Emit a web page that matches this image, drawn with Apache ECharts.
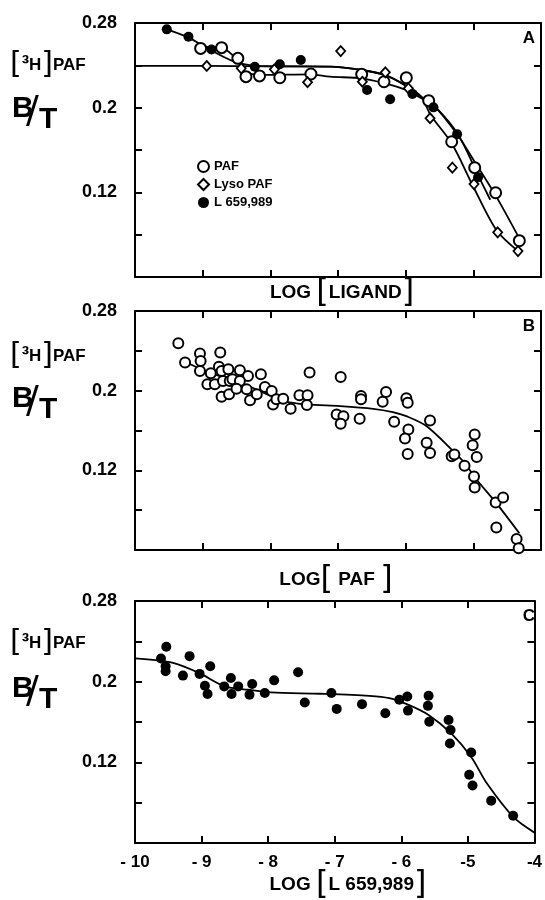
<!DOCTYPE html>
<html><head><meta charset="utf-8">
<script src="https://cdn.jsdelivr.net/npm/echarts@6/dist/echarts.min.js"></script>
<style>html,body{margin:0;padding:0;background:#fff}#c{width:545px;height:900px}</style>
</head><body><div id="c"></div>
<script>
// ---------- tick labels / text ----------
const xTickLabels = ['- 10', '- 9', '- 8', '- 7', '- 6', '-5', '-4'];
const yTickValues = [0.28, 0.2, 0.12];
const yTickLabels = ['0.28', '0.2', '0.12'];
const panelLetters = ['A', 'B', 'C'];
const legendNames = ['PAF', 'Lyso PAF', 'L 659,989'];
const xTitleInner = ['LIGAND', ' PAF ', 'L 659,989'];

// ---------- Panel A data (log ligand, B/T) ----------
const pafA = [[-9.03,0.256],[-8.72,0.2567],[-8.48,0.2466],[-8.36,0.2293],[-8.16,0.230],[-7.86,0.2283],[-7.40,0.2318],[-6.65,0.2315],[-6.32,0.2245],[-5.99,0.2283],[-5.66,0.2066],[-5.32,0.1678],[-4.98,0.1433],[-4.67,0.1196],[-4.32,0.0743]];
const lysoA = [[-8.94,0.2394],[-8.43,0.2372],[-7.94,0.2362],[-7.45,0.224],[-6.96,0.2535],[-6.64,0.2245],[-6.30,0.2334],[-5.96,0.2183],[-5.64,0.190],[-5.31,0.1433],[-4.99,0.1278],[-4.64,0.0822],[-4.34,0.0645]];
const l659A = [[-9.53,0.274],[-9.21,0.267],[-8.87,0.255],[-8.23,0.2387],[-7.86,0.241],[-7.55,0.245],[-6.57,0.2167],[-6.23,0.208],[-5.90,0.213],[-5.59,0.2003],[-5.24,0.175],[-4.93,0.1342]];
const fitPafA = [[-9.06,0.2576],[-8.7,0.256],[-8.5,0.2457],[-8.38,0.234],[-8.1,0.231],[-7.41,0.2315],[-7.12,0.2293],[-6.65,0.2277],[-6.31,0.223],[-5.99,0.2167],[-5.77,0.209],[-5.59,0.2025],[-5.25,0.1758],[-4.95,0.1458],[-4.66,0.1159],[-4.3,0.074]];
const fitLysoA = [[-10,0.2395],[-9,0.2395],[-8,0.239],[-7.12,0.2387],[-6.65,0.2356],[-6.31,0.2309],[-5.99,0.2205],[-5.77,0.2104],[-5.63,0.1928],[-5.32,0.1663],[-5.0,0.1253],[-4.66,0.0844],[-4.34,0.0645]];
const fitL659A = [[-9.53,0.274],[-9.2,0.266],[-8.9,0.255],[-8.55,0.244],[-8.2,0.2395],[-7.6,0.239],[-7.12,0.2387],[-6.65,0.2356],[-6.31,0.2309],[-5.99,0.2205],[-5.77,0.2104],[-5.54,0.1994],[-5.22,0.1742],[-4.92,0.1348],[-4.75,0.113]];

// ---------- Panel B data (log PAF) ----------
const pafB = [[-9.36,0.2477],[-9.26,0.2282],[-9.04,0.2373],[-9.03,0.2299],[-9.04,0.2198],[-8.74,0.2383],[-8.88,0.2175],[-8.76,0.2239],[-8.72,0.2198],[-8.62,0.2215],[-8.93,0.2064],[-8.82,0.2064],[-8.70,0.2097],[-8.60,0.2097],[-8.45,0.2205],[-8.33,0.2148],[-8.14,0.2165],[-8.56,0.2114],[-8.45,0.2097],[-8.72,0.194],[-8.61,0.1963],[-8.50,0.202],[-8.35,0.2013],[-8.30,0.1903],[-8.20,0.1963],[-8.08,0.2037],[-7.98,0.1996],[-7.96,0.1862],[-7.91,0.1913],[-7.81,0.192],[-7.70,0.1819],[-7.57,0.1953],[-7.45,0.1953],[-7.46,0.1855],[-7.42,0.2182],[-6.96,0.2138],[-7.02,0.1761],[-6.92,0.1744],[-6.96,0.1668],[-6.68,0.1718],[-6.66,0.1946],[-6.66,0.1913],[-6.34,0.1889],[-6.29,0.1986],[-6.17,0.1688],[-5.99,0.1923],[-5.97,0.1879],[-5.96,0.161],[-6.01,0.1519],[-5.97,0.1365],[-5.64,0.1701],[-5.69,0.1476],[-5.64,0.1375],[-5.32,0.1341],[-5.28,0.1358],[-5.13,0.1247],[-4.98,0.156],[-5.01,0.1452],[-4.95,0.1335],[-4.99,0.1139],[-4.98,0.1028],[-4.67,0.0877],[-4.56,0.0927],[-4.66,0.0625],[-4.36,0.0511],[-4.33,0.0417]];
const fitB = [[-9.26,0.229],[-8.9,0.218],[-8.45,0.2082],[-8.0,0.195],[-7.81,0.1896],[-7.46,0.1862],[-6.97,0.1845],[-6.48,0.1818],[-6.19,0.1785],[-5.99,0.1744],[-5.69,0.1643],[-5.32,0.1408],[-5.13,0.1274],[-4.95,0.1106],[-4.66,0.0871],[-4.32,0.0568]];

// ---------- Panel C data (log L 659,989) ----------
const l659C = [[-9.61,0.223],[-9.53,0.2347],[-9.54,0.2153],[-9.54,0.2103],[-9.28,0.206],[-9.18,0.2253],[-9.03,0.2077],[-8.95,0.196],[-8.91,0.1877],[-8.87,0.2153],[-8.66,0.1953],[-8.56,0.2037],[-8.55,0.1877],[-8.45,0.1953],[-8.28,0.187],[-8.24,0.1977],[-8.05,0.1887],[-7.91,0.2013],[-7.55,0.2093],[-7.45,0.1793],[-7.05,0.1887],[-6.97,0.173],[-6.59,0.1777],[-6.24,0.1687],[-6.03,0.182],[-5.91,0.1853],[-5.90,0.1713],[-5.59,0.186],[-5.60,0.176],[-5.58,0.1603],[-5.29,0.162],[-5.26,0.152],[-5.27,0.1387],[-4.95,0.1297],[-4.98,0.1077],[-4.93,0.097],[-4.65,0.082],[-4.32,0.067]];
const fitC = [[-10,0.223],[-9.43,0.2187],[-9.04,0.2087],[-8.65,0.1953],[-8.30,0.192],[-7.96,0.1893],[-7.22,0.188],[-6.48,0.186],[-6.18,0.1837],[-5.89,0.177],[-5.59,0.167],[-5.25,0.1487],[-4.95,0.1253],[-4.71,0.0987],[-4.31,0.0653],[-4.0,0.0503]];

// ---------- layout ----------
const FONT = '"Liberation Sans", Arial, Helvetica, sans-serif';
const grids = [
  {left: 135, right: 4, top: 23, height: 254},
  {left: 135, right: 4, top: 311, height: 239},
  {left: 135, right: 4, top: 601, height: 242}
];
const axisLine = {show: true, lineStyle: {color: '#000', width: 2}};
const axisTick = {show: true, inside: true, length: 7, lineStyle: {color: '#000', width: 2}};

const xAxes = [], yAxes = [];
grids.forEach((g, i) => {
  xAxes.push({type: 'value', gridIndex: i, position: 'bottom', min: -10, max: -4, interval: 1,
    axisLine, axisTick, splitLine: {show: false},
    axisLabel: {show: i === 2, margin: 11, color: '#000', fontFamily: FONT, fontWeight: 'bold', fontSize: 17,
      formatter: v => xTickLabels[Math.round(v) + 10]}});
  xAxes.push({type: 'value', gridIndex: i, position: 'top', min: -10, max: -4, interval: 1,
    axisLine, axisTick, splitLine: {show: false}, axisLabel: {show: false}});
  yAxes.push({type: 'value', gridIndex: i, position: 'left', min: 0.04, max: 0.28, interval: 0.04,
    axisLine, axisTick, splitLine: {show: false},
    axisLabel: {margin: 18, color: '#000', fontFamily: FONT, fontWeight: 'bold', fontSize: 18,
      formatter: v => { const k = yTickValues.findIndex(t => Math.abs(t - v) < 1e-6); return k >= 0 ? yTickLabels[k] : ''; }}});
  yAxes.push({type: 'value', gridIndex: i, position: 'right', min: 0.04, max: 0.28, interval: 0.04,
    axisLine, axisTick, splitLine: {show: false}, axisLabel: {show: false}});
});

const openCircle = {color: '#fff', borderColor: '#000', borderWidth: 2, opacity: 1};
const openDiamond = {color: '#fff', borderColor: '#000', borderWidth: 1.8, opacity: 1};
const filled = {color: '#000', borderColor: '#000', borderWidth: 0, opacity: 1};

function scatter(name, data, gi, symbol, size, style) {
  return {name, type: 'scatter', data, xAxisIndex: gi * 2, yAxisIndex: gi * 2, symbol, symbolSize: size,
    itemStyle: style, z: 5, silent: true};
}
function fit(name, data, gi) {
  return {name, type: 'line', data, xAxisIndex: gi * 2, yAxisIndex: gi * 2, smooth: 0.3, showSymbol: false,
    lineStyle: {color: '#000', width: 1.8}, z: 3, silent: true};
}

const series = [
  fit('fitLysoA', fitLysoA, 0), fit('fitL659A', fitL659A, 0), fit('fitPafA', fitPafA, 0),
  scatter(legendNames[0], pafA, 0, 'circle', 11, openCircle),
  scatter(legendNames[1], lysoA, 0, 'diamond', [9, 10], openDiamond),
  scatter(legendNames[2], l659A, 0, 'circle', 10, filled),
  fit('fitB', fitB, 1),
  scatter('PAF B', pafB, 1, 'circle', 10, openCircle),
  fit('fitC', fitC, 2),
  scatter('L 659,989 C', l659C, 2, 'circle', 10, filled)
];

// ---------- text graphics ----------
const graphic = [];
const titleYs = [69, 360, 647];
const btYs = [110, 400, 690];
const bracket = {fontFamily: '"DejaVu Sans", sans-serif', fontWeight: 'normal', fontSize: 30, color: '#000'};
const boldTxt = {fontFamily: FONT, fontWeight: 'bold', fontSize: 17, color: '#000'};
const supTxt = {fontFamily: FONT, fontWeight: 'bold', fontSize: 22, color: '#000'};
grids.forEach((g, i) => {
  graphic.push({type: 'text', left: 10, top: titleYs[i] - 19, silent: true,
    style: {text: '{br|[}{s|³}{t|H}{br|]}{t|PAF}', rich: {br: bracket, t: boldTxt, s: supTxt}}});
  graphic.push({type: 'text', left: 12, top: btYs[i] - 16, silent: true,
    style: {text: 'B', font: 'bold 30px ' + FONT, fill: '#000'}});
  graphic.push({type: 'text', left: 26, top: btYs[i] - 17, silent: true,
    style: {text: '/', font: 'normal 38px "DejaVu Sans", sans-serif', fill: '#000'}});
  graphic.push({type: 'text', left: 39, top: btYs[i] - 5, silent: true,
    style: {text: 'T', font: 'bold 30px ' + FONT, fill: '#000'}});
  graphic.push({type: 'text', right: 10, top: g.top + 7, silent: true,
    style: {text: panelLetters[i], font: 'bold 17px ' + FONT, fill: '#000'}});
});
const xTitleY = [293, 580, 885];
const xTitleRich = {
  t: {fontFamily: FONT, fontWeight: 'bold', fontSize: 19, color: '#000'},
  br: {fontFamily: '"DejaVu Sans", sans-serif', fontWeight: 'normal', fontSize: 32, color: '#000'}
};
const xTitleTexts = [
  '{t|LOG }{br|[}{t|' + xTitleInner[0] + '}{br|]}',
  '{t|LOG}{br|[}{t|' + xTitleInner[1] + '}{br|]}',
  '{t|LOG }{br|[}{t|' + xTitleInner[2] + '}{br|]}'
];
const xTitleX = [342, 336, 348];
xTitleTexts.forEach((txt, i) => {
  graphic.push({type: 'text', x: xTitleX[i], y: xTitleY[i], silent: true,
    style: {text: txt, rich: xTitleRich, align: 'center', verticalAlign: 'middle',
      textAlign: 'center', textVerticalAlign: 'middle'}});
});

const chart = echarts.init(document.getElementById('c'), null, {renderer: 'canvas'});
chart.setOption({
  animation: false,
  backgroundColor: '#fff',
  grid: grids,
  xAxis: xAxes,
  yAxis: yAxes,
  legend: {data: legendNames, orient: 'vertical', left: 192, top: 155, itemGap: 5, itemWidth: 11, itemHeight: 11,
    selectedMode: false, textStyle: {fontFamily: FONT, fontWeight: 'bold', fontSize: 13, color: '#000'}},
  series,
  graphic
});
</script>
</body></html>
